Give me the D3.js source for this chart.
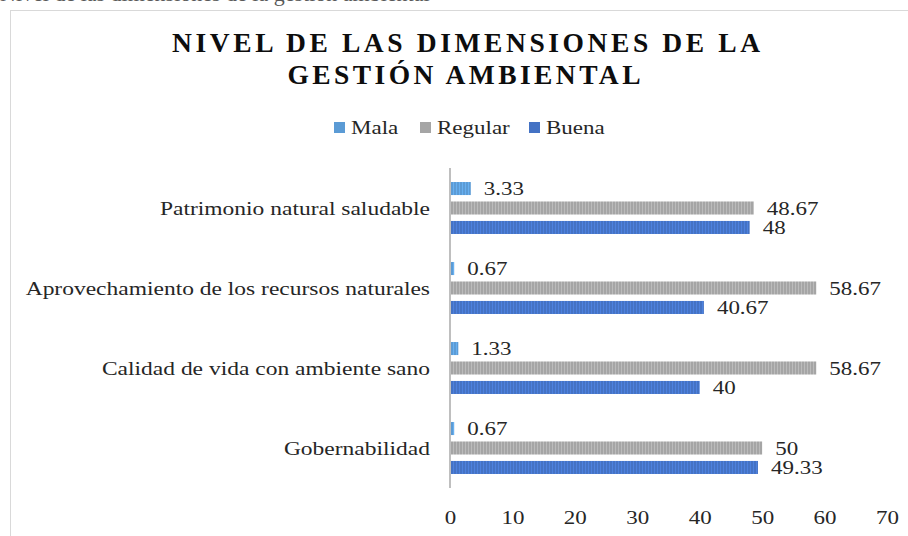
<!DOCTYPE html>
<html>
<head>
<meta charset="utf-8">
<script src="https://cdn.jsdelivr.net/npm/d3@7"></script>
<style>
    body { margin: 0; background: #fff; }
    svg text { font-family: "Liberation Serif", "Times New Roman", serif; fill: #262626; }
</style>
</head>
<body>
<svg id="chart" width="908" height="536"></svg>
<script>
var categories = [
    "Patrimonio natural saludable",
    "Aprovechamiento de los recursos naturales",
    "Calidad de vida con ambiente sano",
    "Gobernabilidad"
];
var seriesNames = ["Mala", "Regular", "Buena"];
var malaValues = [3.33, 0.67, 1.33, 0.67];
var regularValues = [48.67, 58.67, 58.67, 50];
var buenaValues = [48, 40.67, 40, 49.33];
var tickValues = [0, 10, 20, 30, 40, 50, 60, 70];

var seriesColors = {
    Mala: "#5B9BD5",
    Regular: "#A5A5A5",
    Buena: "#4472C4"
};

var fontFamily = "'Liberation Serif', 'Times New Roman', serif";
var squash = 0.84; // the source picture is a bit flattened vertically

var svg = d3.select("#chart");

// places a text vertically centred on (x, y), flattened like the source
function addText(parent, x, y, str, anchor, size) {
    var g = parent.append("g")
        .attr("transform", "translate(" + x + "," + y + ")");
    g.append("text")
        .attr("transform", "scale(1," + squash + ")")
        .attr("dy", "0.35em")
        .attr("text-anchor", anchor || "start")
        .style("font-family", fontFamily)
        .style("font-size", (size || 23) + "px")
        .text(str);
    return g;
}

// frame of the chart object, cut off at the right and bottom
svg.append("rect")
    .attr("x", 10.5)
    .attr("y", 10.5)
    .attr("width", 920)
    .attr("height", 560)
    .attr("fill", "#fff")
    .attr("stroke", "#d9d9d9");

// caption line of the document above, clipped at the top
svg.append("text")
    .attr("x", 0)
    .attr("y", 1)
    .style("font-family", fontFamily)
    .style("font-size", "22px")
    .style("fill", "#595959")
    .text("Nivel de las dimensiones de la gestión ambiental");

// stripe patterns for bars
var defs = svg.append("defs");
seriesNames.forEach(function(name) {
    var p = defs.append("pattern")
        .attr("id", "pat-" + name)
        .attr("patternUnits", "userSpaceOnUse")
        .attr("width", 3)
        .attr("height", 10);
    p.append("rect")
        .attr("width", 3)
        .attr("height", 10)
        .attr("fill", seriesColors[name]);
    p.append("rect")
        .attr("width", 1)
        .attr("height", 10)
        .attr("fill", d3.color(seriesColors[name]).brighter(0.35));
});

var xScale = d3.scaleLinear()
    .domain([0, 70])
    .range([450, 887]);
var yScale = d3.scaleBand()
    .domain(categories)
    .range([168, 488]);
var innerScale = d3.scaleBand()
    .domain(seriesNames)
    .range([0, yScale.bandwidth()])
    .paddingInner(0.33)
    .paddingOuter(0.72);

var seriesData = {
    Mala: malaValues,
    Regular: regularValues,
    Buena: buenaValues
};

// title
var title = svg.append("g").attr("class", "title");
title.append("text")
    .attr("x", 466)
    .attr("y", 52)
    .attr("text-anchor", "middle")
    .attr("textLength", 588)
    .attr("lengthAdjust", "spacing")
    .style("font-family", fontFamily)
    .style("font-size", "27.5px")
    .style("font-weight", "bold")
    .style("fill", "#0d0d0d")
    .text("NIVEL DE LAS DIMENSIONES DE LA");
title.append("text")
    .attr("x", 464)
    .attr("y", 84)
    .attr("text-anchor", "middle")
    .attr("textLength", 353)
    .attr("lengthAdjust", "spacing")
    .style("font-family", fontFamily)
    .style("font-size", "27.5px")
    .style("font-weight", "bold")
    .style("fill", "#0d0d0d")
    .text("GESTIÓN AMBIENTAL");

// legend
var legendX = [334, 420, 529];
var legend = svg.append("g").attr("class", "legend");
seriesNames.forEach(function(name, i) {
    var item = legend.append("g")
        .attr("transform", "translate(" + legendX[i] + ",127.5)");
    item.append("rect")
        .attr("x", 0)
        .attr("y", -5.5)
        .attr("width", 11)
        .attr("height", 11)
        .attr("fill", seriesColors[name]);
    addText(item, 17, 0, name, "start", 23);
});

// bars
categories.forEach(function(cat, ci) {
    var group = svg.append("g")
        .attr("transform", "translate(0," + yScale(cat) + ")");
    seriesNames.forEach(function(name) {
        var v = seriesData[name][ci];
        group.append("rect")
            .attr("x", xScale(0))
            .attr("y", innerScale(name))
            .attr("width", xScale(v) - xScale(0))
            .attr("height", innerScale.bandwidth())
            .attr("fill", "url(#pat-" + name + ")");
        addText(group, xScale(v) + 13,
            innerScale(name) + innerScale.bandwidth() / 2, v, "start", 23);
    });
});

// category labels
var catLabels = svg.append("g").attr("class", "cat-labels");
categories.forEach(function(cat) {
    addText(catLabels, 430,
        yScale(cat) + innerScale("Regular") + innerScale.bandwidth() / 2,
        cat, "end", 23.5);
});

// vertical axis line
svg.append("line")
    .attr("x1", xScale(0))
    .attr("x2", xScale(0))
    .attr("y1", 168)
    .attr("y2", 488)
    .attr("stroke", "#bfbfbf")
    .attr("stroke-width", 2);

// x axis ticks
var xAxis = d3.axisBottom(xScale)
    .tickValues(tickValues)
    .tickSize(0)
    .tickPadding(0);
svg.append("g")
    .attr("transform", "translate(0,517)")
    .call(xAxis)
    .call(g => g.select(".domain").remove())
    .call(g => g.selectAll("text")
        .attr("y", 0)
        .attr("dy", "0.35em")
        .attr("transform", "scale(1," + squash + ")")
        .style("font-size", "23px")
        .style("font-family", fontFamily)
        .attr("fill", "#262626"));
</script>
</body>
</html>
